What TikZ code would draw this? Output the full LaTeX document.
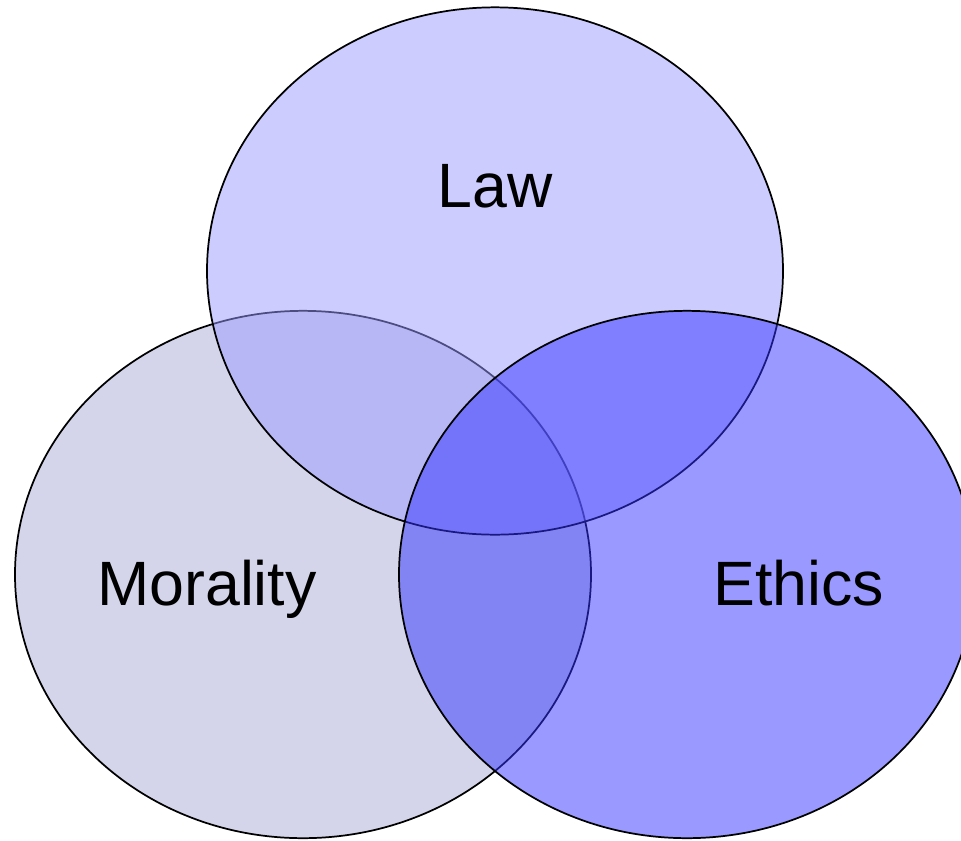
\documentclass[tikz,border=0pt]{standalone}
\usepackage{fontspec}
\setmainfont{Liberation Sans}
\usepackage{tikz}
\usetikzlibrary{shapes.geometric}

\definecolor{morality}{HTML}{AAACD5}
\definecolor{law}{HTML}{9999FF}
\definecolor{ethics}{HTML}{3333FF}

\tikzset{
	set/.style={ellipse,draw=black,line width=1.3pt,fill opacity=0.5,inner sep=0pt,
		minimum width=432pt,minimum height=395.5pt},
	setlabel/.style={anchor=base,font=\fontsize{47}{56}\selectfont}
}

\begin{document}
\begin{tikzpicture}[x=0.75pt,y=-0.75pt]
		\useasboundingbox (0,0) rectangle (961,840);
		\clip (0,0) rectangle (961,840);
%		\draw[help lines] (0,0) grid[step=50] (961,840);
		\path (303,574.5) coordinate (morality_c);
		\path (495,271) coordinate (law_c);
		\path (687,574.5) coordinate (ethics_c);
		\path (495,207) coordinate (law_t);
		\path (207,605) coordinate (morality_t);
		\path (799,605) coordinate (ethics_t);

		\path (morality_c) node(morality) [set,fill=morality] {};
		\path (law_c) node(law) [set,fill=law] {};
		\path (ethics_c) node(ethics) [set,fill=ethics] {};

		\path (law_t) node(lawtext) [setlabel] {Law};
		\path (morality_t) node(moralitytext) [setlabel] {Morality};
		\path (ethics_t) node(ethicstext) [setlabel] {Ethics};
	\end{tikzpicture}
\end{document}
